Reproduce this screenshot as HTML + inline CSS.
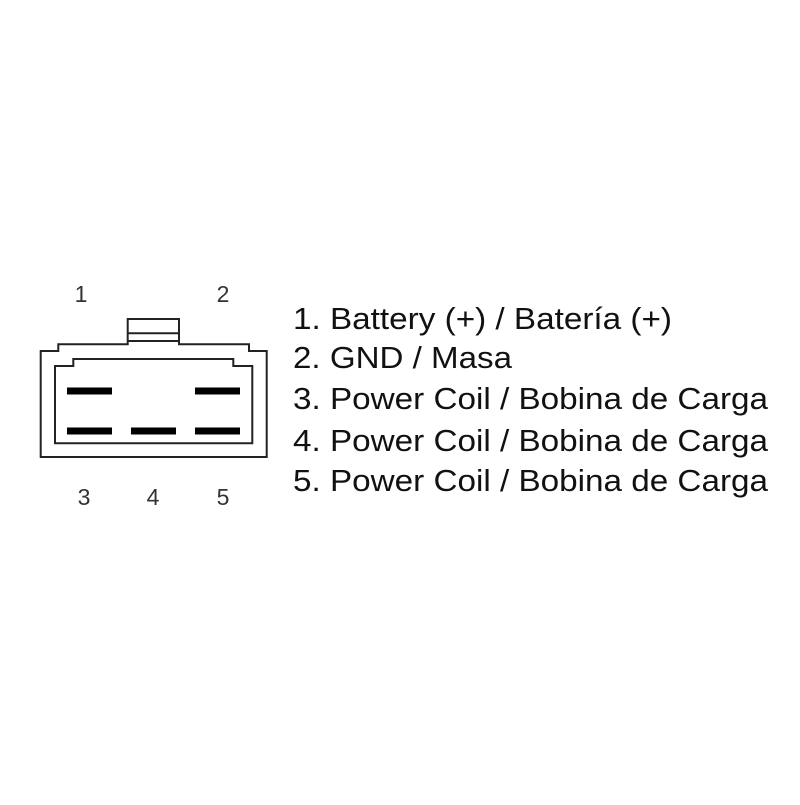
<!DOCTYPE html>
<html><head><style>html,body{margin:0;padding:0;background:#fff}</style></head>
<body>
<svg width="800" height="800" viewBox="0 0 800 800" xmlns="http://www.w3.org/2000/svg">
<rect width="800" height="800" fill="#fff"/>
<g fill="none" stroke="#222" stroke-width="2">
<path d="M40.7,351 H58.3 V344.3 H127.7 V319 H179 V344.3 H249 V351 H266.7 V457 H40.7 Z"/>
<line x1="127.7" y1="333.3" x2="179" y2="333.3"/>
<line x1="127.7" y1="341" x2="179" y2="341"/>
<path d="M55,366 H73.3 V359 H233.3 V366 H252.3 V443.3 H55 Z"/>
</g>
<g fill="#000">
<rect x="67" y="387.5" width="45" height="7"/>
<rect x="195" y="387.5" width="45" height="7"/>
<rect x="67" y="427.5" width="45" height="7"/>
<rect x="131" y="427.5" width="45" height="7"/>
<rect x="195" y="427.5" width="45" height="7"/>
</g>
<g font-family="Liberation Sans, sans-serif" font-size="23" fill="#333" text-anchor="middle">
<text x="81" y="302">1</text>
<text x="223" y="302">2</text>
<text x="84" y="505">3</text>
<text x="153" y="505">4</text>
<text x="223" y="505">5</text>
</g>
<g font-family="Liberation Sans, sans-serif" font-size="31" fill="#111">
<text x="293" y="329" textLength="379" lengthAdjust="spacingAndGlyphs">1. Battery (+) / Batería (+)</text>
<text x="293" y="368" textLength="219" lengthAdjust="spacingAndGlyphs">2. GND / Masa</text>
<text x="293" y="409" textLength="475" lengthAdjust="spacingAndGlyphs">3. Power Coil / Bobina de Carga</text>
<text x="293" y="451" textLength="475" lengthAdjust="spacingAndGlyphs">4. Power Coil / Bobina de Carga</text>
<text x="293" y="491" textLength="475" lengthAdjust="spacingAndGlyphs">5. Power Coil / Bobina de Carga</text>
</g>
</svg>
</body></html>
